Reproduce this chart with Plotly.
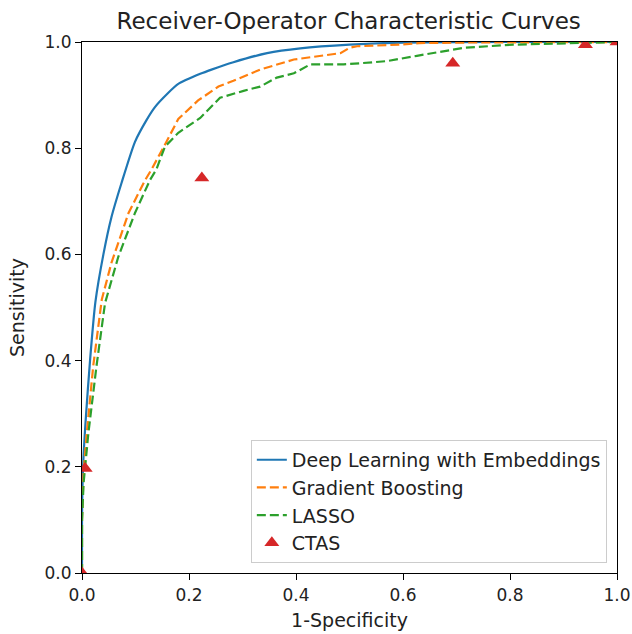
import plotly.graph_objects as go

# Deep Learning with Embeddings
dl_fpr = [0, 0.0, 0.002, 0.007, 0.015, 0.025, 0.04, 0.055, 0.074, 0.099, 0.12, 0.136, 0.16, 0.18, 0.221, 0.242, 0.283, 0.346, 0.408, 0.5, 0.6, 0.8, 1.0]
dl_tpr = [0, 0.10, 0.20, 0.29, 0.40, 0.51, 0.60, 0.67, 0.735, 0.812, 0.852, 0.877, 0.903, 0.921, 0.940, 0.948, 0.962, 0.979, 0.988, 0.995, 0.999, 1.0, 1.0]

# Gradient Boosting
gb_fpr = [0, 0.0, 0.003, 0.009, 0.021, 0.037, 0.055, 0.087, 0.118, 0.13, 0.153, 0.18, 0.217, 0.255, 0.283, 0.333, 0.396, 0.458, 0.483, 0.50, 0.514, 0.595, 0.63, 0.713, 1.0]
gb_tpr = [0, 0.10, 0.19, 0.264, 0.39, 0.515, 0.584, 0.678, 0.74, 0.76, 0.803, 0.855, 0.89, 0.916, 0.927, 0.948, 0.967, 0.976, 0.979, 0.989, 0.992, 0.995, 0.998, 0.999, 1.0]

# LASSO
la_fpr = [0, 0.0, 0.003, 0.012, 0.027, 0.043, 0.068, 0.099, 0.127, 0.139, 0.155, 0.18, 0.221, 0.249, 0.258, 0.302, 0.333, 0.364, 0.396, 0.427, 0.458, 0.489, 0.52, 0.57, 0.626, 0.713, 0.806, 0.90, 1.0]
la_tpr = [0, 0.10, 0.17, 0.264, 0.389, 0.508, 0.596, 0.678, 0.74, 0.76, 0.803, 0.829, 0.857, 0.885, 0.895, 0.908, 0.916, 0.933, 0.941, 0.958, 0.958, 0.958, 0.96, 0.964, 0.974, 0.989, 0.995, 0.998, 1.0]

# CTAS operating points
ctas_fpr = [0.0, 0.006, 0.224, 0.693, 0.941, 1.0]
ctas_tpr = [0.0, 0.197, 0.744, 0.96, 0.995, 1.0]

FONT = "DejaVu Sans"
DASH = "9px,4px"

fig = go.Figure()
fig.add_trace(go.Scatter(x=dl_fpr, y=dl_tpr, mode="lines", name="Deep Learning with Embeddings",
                         legendgroup="a",
                         line=dict(color="#1f77b4", width=2.2, shape="spline", smoothing=0.6)))
fig.add_trace(go.Scatter(x=gb_fpr, y=gb_tpr, mode="lines", name="Gradient Boosting",
                         legendgroup="b",
                         line=dict(color="#ff7f0e", width=2.2, dash=DASH)))
fig.add_trace(go.Scatter(x=la_fpr, y=la_tpr, mode="lines", name="LASSO",
                         legendgroup="c",
                         line=dict(color="#2ca02c", width=2.2, dash=DASH)))
fig.add_trace(go.Scatter(x=ctas_fpr, y=ctas_tpr, mode="markers", name="CTAS",
                         legendgroup="d",
                         marker=dict(symbol="triangle-up", color="#d62728", size=13)))

axis_common = dict(
    showgrid=False, zeroline=False, showline=True, linecolor="black", linewidth=1.2,
    mirror=True, ticks="outside", ticklen=6, tickwidth=1.2, tickcolor="black",
    tickfont=dict(family=FONT, size=17, color="#222"),
    range=[0, 1], tickvals=[0, 0.2, 0.4, 0.6, 0.8, 1.0],
    ticktext=["0.0", "0.2", "0.4", "0.6", "0.8", "1.0"],
    automargin=False,
)

fig.update_layout(
    width=632, height=634,
    margin=dict(l=82, r=15, t=42, b=61),
    paper_bgcolor="white", plot_bgcolor="white",
    title=dict(text="Receiver-Operator Characteristic Curves", x=0.5517, xanchor="center",
               y=1 - 21 / 634, yanchor="middle",
               font=dict(family=FONT, size=23, color="#222")),
    xaxis=dict(axis_common, title=dict(text="1-Specificity", standoff=10,
                                       font=dict(family=FONT, size=19, color="#222"))),
    yaxis=dict(axis_common, title=dict(text="Sensitivity", standoff=14,
                                       font=dict(family=FONT, size=19, color="#222"))),
    legend=dict(x=0.981, y=0.019, xanchor="right", yanchor="bottom",
                bgcolor="rgba(255,255,255,0.85)", bordercolor="#cccccc", borderwidth=1,
                font=dict(family=FONT, size=19, color="#222"),
                traceorder="grouped", tracegroupgap=0),
    showlegend=True,
)

fig.write_html("out.html")
